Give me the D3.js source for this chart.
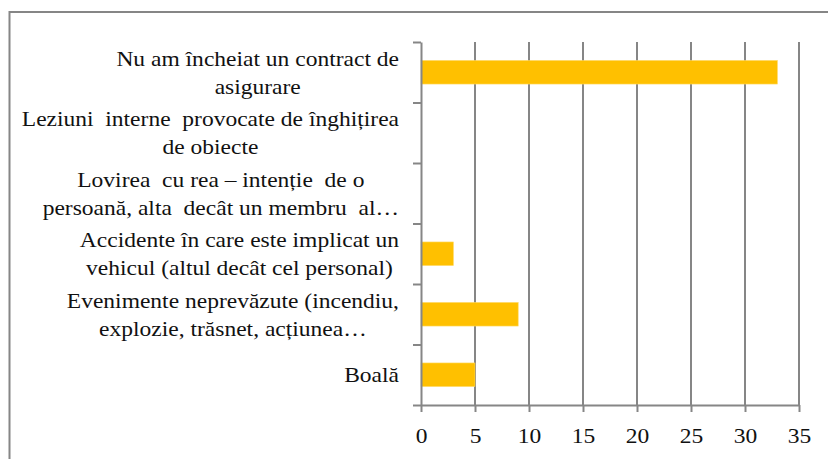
<!DOCTYPE html>
<html>
<head>
<meta charset="utf-8">
<script src="https://cdn.jsdelivr.net/npm/d3@7"></script>
</head>
<body style="margin:0">
<script>
var svgWidth = 828;
var svgHeight = 459;

// categories, top to bottom, each split in the lines shown on the picture
var categories = [
    "Nu am încheiat un contract de asigurare",
    "Leziuni interne provocate de înghițirea de obiecte",
    "Lovirea cu rea – intenție de o persoană, alta decât un membru al…",
    "Accidente în care este implicat un vehicul (altul decât cel personal)",
    "Evenimente neprevăzute (incendiu, explozie, trăsnet, acțiunea…",
    "Boală"
];
var labelLines = [
    ["Nu am încheiat un contract de", "asigurare"],
    ["Leziuni  interne  provocate de înghițirea", "de obiecte"],
    ["Lovirea  cu rea – intenție  de o", "persoană, alta  decât un membru  al…"],
    ["Accidente în care este implicat un", "vehicul (altul decât cel personal)"],
    ["Evenimente neprevăzute (incendiu,", "explozie, trăsnet, acțiunea…"],
    ["Boală"]
];
var values = [33, 0, 0, 3, 9, 5];
var xTicks = [0, 5, 10, 15, 20, 25, 30, 35];

var margin = { top: 42, right: 29, bottom: 54, left: 421 };
var width = svgWidth - margin.left - margin.right;
var height = svgHeight - margin.top - margin.bottom;

var gray = "#868686";
var serif = "'Liberation Serif', 'Times New Roman', serif";
var fontSize = 21;
var stretch = 1.12;   // text in the picture is a bit wider than tall
var lineStep = 28;

var svg = d3.select("body")
    .append("svg")
    .attr("width", svgWidth)
    .attr("height", svgHeight)
    .attr("font-family", "Liberation Serif");

// outer frame (runs off the right and bottom edge)
svg.append("rect")
    .attr("x", 9.5)
    .attr("y", 12)
    .attr("width", 900)
    .attr("height", 600)
    .attr("fill", "none")
    .attr("stroke", gray)
    .attr("stroke-width", 2);

var chartGroup = svg.append("g")
    .attr("transform", `translate(${margin.left}, ${margin.top})`);

var x = d3.scaleLinear()
    .domain([0, 35])
    .range([0, width]);

var y = d3.scaleBand()
    .domain(categories)
    .range([0, height])
    .paddingInner(0.61)
    .paddingOuter(0.305);

var yEdges = d3.scaleLinear()
    .domain([0, categories.length])
    .range([0, height]);

// vertical gridlines
chartGroup.append("g")
    .selectAll("line")
    .data(xTicks.slice(1))
    .enter()
    .append("line")
    .attr("x1", d => x(d))
    .attr("x2", d => x(d))
    .attr("y1", 0)
    .attr("y2", height)
    .attr("stroke", gray)
    .attr("stroke-width", 2);

// bars
chartGroup.append("g")
    .selectAll("rect")
    .data(values)
    .enter()
    .append("rect")
    .attr("x", x(0))
    .attr("y", (d, i) => y(categories[i]))
    .attr("width", d => x(d) - x(0))
    .attr("height", y.bandwidth())
    .attr("fill", "#FFC000")
    .attr("stroke", d => d > 0 ? "#ffd966" : "none")
    .attr("stroke-width", 0.6);

// bottom axis
var bottomAxis = d3.axisBottom(x)
    .tickValues(xTicks)
    .tickSizeInner(7)
    .tickSizeOuter(0)
    .tickFormat(d3.format("d"));

var xAxis = chartGroup.append("g")
    .attr("transform", `translate(0,${height})`)
    .call(bottomAxis)
    .attr("font-family", "Liberation Serif")
    .attr("font-size", fontSize);
xAxis.select(".domain").attr("stroke", gray).attr("stroke-width", 2);
xAxis.selectAll(".tick line").attr("stroke", gray).attr("stroke-width", 2);
xAxis.selectAll(".tick text")
    .attr("y", 0)
    .attr("dy", 0)
    .attr("fill", "#111")
    .attr("font-family", "Liberation Serif")
    .style("font-family", serif)
    .style("font-size", fontSize + "px")
    .attr("transform", `translate(0,38) scale(${stretch},1)`);

// left axis: ticks between categories
var leftAxis = d3.axisLeft(yEdges)
    .tickValues(d3.range(categories.length + 1))
    .tickSizeInner(8)
    .tickSizeOuter(0)
    .tickFormat("");
var yAxis = chartGroup.append("g").call(leftAxis);
yAxis.select(".domain").attr("stroke", gray).attr("stroke-width", 2);
yAxis.selectAll(".tick line").attr("stroke", gray).attr("stroke-width", 2);

// category labels: block right edge at x = 399, lines centred in block
var labelsGroup = svg.append("g");
labelLines.forEach(function (lines, i) {
    var cy = margin.top + y(categories[i]) + y.bandwidth() / 2;
    var g = labelsGroup.append("g")
        .attr("transform", `translate(399, ${cy}) scale(${stretch},1)`);
    var texts = g.selectAll("text")
        .data(lines)
        .enter()
        .append("text")
        .attr("font-family", "Liberation Serif")
        .style("font-family", serif)
        .style("font-size", fontSize + "px")
        .style("white-space", "pre")
        .attr("fill", "#111")
        .attr("text-anchor", "middle")
        .attr("y", (d, j) => (j - (lines.length - 1) / 2) * lineStep)
        .attr("dy", "0.36em")
        .text(d => d);
    var maxW = d3.max(texts.nodes(), n => n.getComputedTextLength());
    texts.attr("x", -maxW / 2);
});
</script>
</body>
</html>
